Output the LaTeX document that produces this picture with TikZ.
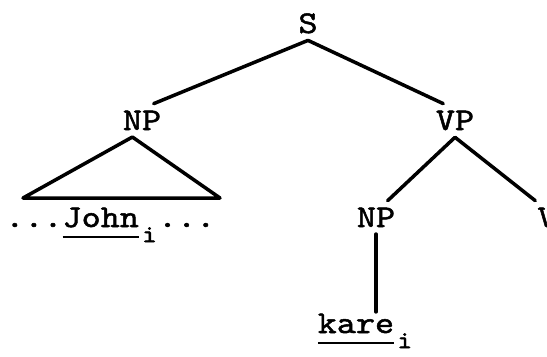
\documentclass[tikz,border=0pt]{standalone}
\usepackage{fontspec}
\newfontfamily\tw{lmmono10-regular}[Extension=.otf,FakeStretch=1.15,FakeBold=1.6]
\newcommand\uline[1]{\vtop{\hbox{#1}\kern5pt\hrule height1.3pt}}
\newcommand\idx{\makebox[0pt][l]{\raisebox{-.48em}{\kern.1em\fontsize{14}{14}\selectfont i}}\phantom{x}}
\tikzset{lab/.style={anchor=base,inner sep=3pt,font=\tw\fontsize{18}{20}\selectfont}}
\begin{document}
\begin{tikzpicture}[x=0.02cm,y=-0.02cm,line width=2pt,line cap=round,line join=round]
   \useasboundingbox (0,0) rectangle (547,356);
   \foreach \n/\x/\y/\t in {s/308/33/S, np1/142/130/NP, vp/455/130/VP, np2/376/227/NP, v/547/227/V}
   {
       \node[lab] (\n) at (\x,\y){\t};
   }
   \node[lab,anchor=base west,inner sep=0pt] (john) at (3.5,227){...\uline{John}\idx...};
   \node[lab,anchor=base west,inner sep=0pt] (kare) at (316,333){\uline{kare}\idx};
   \foreach \a/\b in {s.south/np1.55, s.south/vp.125, vp.south/np2.55, vp.south/v.125}
   {
       \draw (\a)--(\b);
   }
   \draw (np2.south)--(np2.south |- kare.north);
   \coordinate (tl) at (23,198);
   \coordinate (tr) at (220,198);
   \draw (np1.240)--(tl)--(tr)--cycle;
\end{tikzpicture}
\end{document}
